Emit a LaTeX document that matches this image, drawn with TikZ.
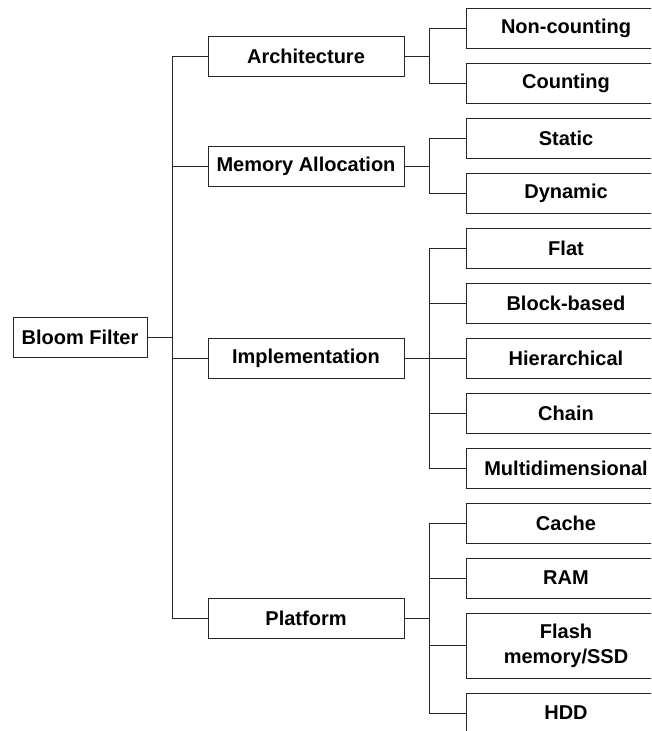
\documentclass[tikz,border=0pt]{standalone}
\usepackage{fontspec}
\setmainfont{Liberation Sans}
\begin{document}
\begin{tikzpicture}[x=1pt,y=-1pt,
  box/.style={draw=black!85, line width=1pt, inner sep=0pt, align=center,
    font=\fontsize{20}{25}\selectfont\bfseries},
  rootbox/.style={box, minimum width=134pt, minimum height=40pt},
  midbox/.style={box, minimum width=196pt, minimum height=40pt},
  leafbox/.style={box, minimum width=200pt, minimum height=40pt},
  link/.style={draw=black!85, line width=1pt}]
\useasboundingbox (0,0) rectangle (651,731);
\clip (0,0) rectangle (651,731);

% root
\node[rootbox] (bf) at (80,337) {Bloom Filter};

% first level
\node[midbox] (arch) at (306,56)  {Architecture};
\node[midbox] (mem)  at (306,166) {Memory Allocation};
\node[midbox] (impl) at (306,358) {Implementation};
\node[midbox] (plat) at (306,618) {Platform};

% second level
\node[leafbox] (nc)   at (566,28)  {Non-counting};
\node[leafbox] (cnt)  at (566,83)  {Counting};
\node[leafbox] (stat) at (566,138) {Static};
\node[leafbox] (dyn)  at (566,193) {Dynamic};
\node[leafbox] (flat) at (566,248) {Flat};
\node[leafbox] (blk)  at (566,303) {Block-based};
\node[leafbox] (hier) at (566,358) {Hierarchical};
\node[leafbox] (chn)  at (566,413) {Chain};
\node[leafbox] (mdim) at (566,468) {Multidimensional};
\node[leafbox] (cache) at (566,523) {Cache};
\node[leafbox] (ram)  at (566,578) {RAM};
\node[leafbox, minimum height=65pt] (flash) at (566,645.5) {Flash\\memory/SSD};
\node[leafbox] (hdd)  at (566,713) {HDD};

% trunk positions
\coordinate (t1) at (172,0);
\coordinate (t2) at (429,0);

% root to first level
\draw[link] (bf.east) -- (bf.east -| t1);
\draw[link] (arch.west -| t1) -- (plat.west -| t1);
\foreach \n in {arch,mem,impl,plat}
  \draw[link] (\n.west -| t1) -- (\n.west);

% first level to second level
\foreach \p/\a/\b in {arch/nc/cnt, mem/stat/dyn, impl/flat/mdim, plat/cache/hdd} {
  \draw[link] (\p.east) -- (\p.east -| t2);
  \draw[link] (\a.west -| t2) -- (\b.west -| t2);
}
\foreach \n in {nc,cnt,stat,dyn,flat,blk,hier,chn,mdim,cache,ram,flash,hdd}
  \draw[link] (\n.west -| t2) -- (\n.west);
\end{tikzpicture}
\end{document}
